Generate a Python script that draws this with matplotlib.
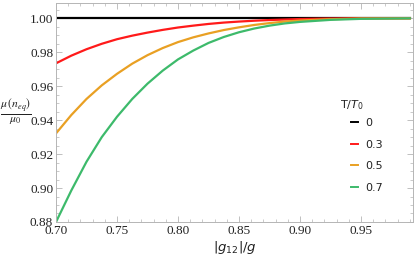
import matplotlib
matplotlib.use("Agg")
import matplotlib.pyplot as plt
from matplotlib.ticker import MultipleLocator

# values
x = [0.70, 0.7125, 0.725, 0.7375, 0.75, 0.7625, 0.775, 0.7875, 0.80, 0.8125, 0.825,
     0.8375, 0.85, 0.8625, 0.875, 0.8875, 0.90, 0.925, 0.95, 0.99]
mu_0 = [1.0] * len(x)
mu_03 = [0.9735, 0.9780, 0.9818, 0.9850, 0.9877, 0.9898, 0.9916, 0.9932, 0.9946, 0.9957, 0.9967,
         0.9975, 0.9981, 0.9986, 0.9990, 0.9993, 0.9996, 0.9999, 1.0, 1.0]
mu_05 = [0.9322, 0.9430, 0.9525, 0.9605, 0.9673, 0.9733, 0.9783, 0.9825, 0.9860, 0.9888, 0.9911,
         0.9931, 0.9947, 0.9961, 0.9972, 0.9981, 0.9987, 0.9995, 0.9999, 1.0]
mu_07 = [0.880, 0.8985, 0.9155, 0.9300, 0.9420, 0.9525, 0.9615, 0.9692, 0.9758, 0.9810, 0.9855,
         0.9890, 0.9918, 0.9940, 0.9957, 0.9970, 0.9979, 0.9991, 0.9997, 1.0]
labels = ["0", "0.3", "0.5", "0.7"]
colors = ["#000000", "#ff1a1a", "#e9a023", "#3dba6b"]

fig = plt.figure(figsize=(4.15, 2.56), dpi=100)
ax = fig.add_axes([0.135, 0.133, 0.86, 0.855])

for ys, lab, c in zip([mu_0, mu_03, mu_05, mu_07], labels, colors):
    ax.plot(x, ys, color=c, lw=1.6, label=lab)

ax.set_xlim(0.70, 0.9926)
ax.set_ylim(0.88, 1.009)

ax.set_xticks([0.70, 0.75, 0.80, 0.85, 0.90, 0.95])
ax.set_xticklabels(["0.70", "0.75", "0.80", "0.85", "0.90", "0.95"])
ax.set_yticks([0.88, 0.90, 0.92, 0.94, 0.96, 0.98, 1.00])
ax.set_yticklabels(["0.88", "0.90", "0.92", "0.94", "0.96", "0.98", "1.00"])
ax.xaxis.set_minor_locator(MultipleLocator(0.01))
ax.yaxis.set_minor_locator(MultipleLocator(0.005))
ax.tick_params(which="both", direction="in", top=True, right=True, color="#b5b5b5",
               labelcolor="#222222", pad=2, labelsize=9.5, labelfontfamily="Liberation Serif")
ax.tick_params(which="major", length=4, width=0.6)
ax.tick_params(which="minor", length=2, width=0.5)
for s in ax.spines.values():
    s.set_color("#b5b5b5")
    s.set_linewidth(0.7)

fig.text(0.565, 0.02, r"$|g_{12}|/g$", fontsize=9.5, ha="center", color="#222222")
fig.text(0.038, 0.565, r"$\frac{\mu\,(n_{eq})}{\mu_0}$", fontsize=12, ha="center", va="center",
         color="#222222", math_fontfamily="stix")

fig.text(0.819, 0.59, r"T/$T_0$", fontsize=8, color="#222222", va="center")
leg = ax.legend(loc="upper left", bbox_to_anchor=(0.822, 0.578),
                bbox_transform=fig.transFigure, frameon=False, fontsize=8,
                handlelength=0.6, handletextpad=0.7, labelspacing=1.05)
for h in leg.get_lines():
    h.set_linewidth(1.4)
for t in leg.get_texts():
    t.set_color("#222222")

fig.savefig("out.png", dpi=100)
